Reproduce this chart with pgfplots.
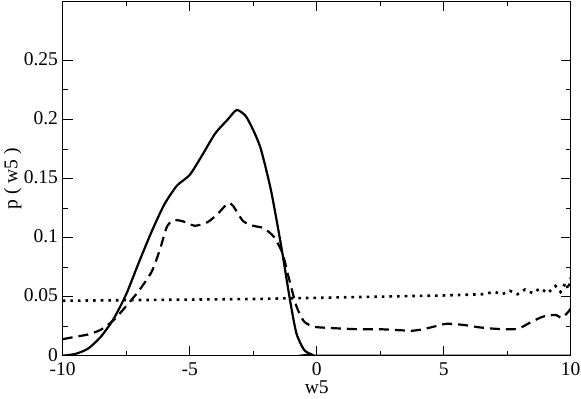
\documentclass[border=0pt]{standalone}
\usepackage{fontspec}
\setmainfont{Liberation Serif}
\usepackage{pgfplots}
\pgfplotsset{compat=1.18}

\begin{document}
\fontsize{19.5}{22}\selectfont
\begin{tikzpicture}
\begin{axis}[
    name=ax,
    scale only axis,
    width=508pt, height=354.4pt,
    xmin=-10, xmax=10, ymin=0, ymax=0.3,
    xtick={-10,-5,0,5,10},
    ytick={0,0.05,0.1,0.15,0.2,0.25},
    minor x tick num=1,
    minor y tick num=1,
    tick align=inside,
    major tick length=10pt,
    minor tick length=5pt,
    every tick/.style={black, line width=0.8pt},
    axis line style={line width=1.1pt},
    /pgf/number format/assume math mode=true,
    /pgf/number format/fixed,
    /pgf/number format/precision=2,
    xticklabel style={yshift=0pt},
    yticklabel style={xshift=2pt, yshift=1pt},
    xlabel={w5}, ylabel={p ( w5 )},
    xlabel style={yshift=8pt},
    every axis y label/.style={at={(axis description cs:0,0.5)}, xshift=-50pt, rotate=90, anchor=center},
    every axis plot/.append style={black, line width=2.2pt},
]
% solid
\addplot[smooth, tension=0.4] coordinates {
(-10,0) (-9.5,0.0015) (-9,0.006) (-8.5,0.016) (-8,0.031) (-7.5,0.052)
(-7,0.079) (-6.5,0.105) (-6,0.128) (-5.5,0.144) (-5,0.153) (-4.5,0.170)
(-4,0.188) (-3.5,0.200) (-3.15,0.208) (-2.8,0.203) (-2.5,0.191) (-2.2,0.175)
(-1.8,0.140) (-1.4,0.093) (-1.05,0.047) (-0.8,0.019) (-0.5,0.005) (-0.2,0.001)
(0,0) (10,0)
};
% dashed
\addplot[smooth, tension=0.4, dash pattern=on 10pt off 6pt] coordinates {
(-10,0.014) (-9.5,0.016) (-9,0.018) (-8.5,0.022) (-8,0.030) (-7.5,0.042)
(-7,0.055) (-6.5,0.071) (-6.17,0.090) (-5.9,0.109) (-5.65,0.1145) (-5.3,0.114)
(-4.8,0.110) (-4.3,0.113) (-3.9,0.120) (-3.5,0.129) (-3.3,0.127) (-2.9,0.114)
(-2.5,0.110) (-2.1,0.108) (-1.7,0.101) (-1.35,0.087) (-1.1,0.066) (-0.8,0.042)
(-0.5,0.029) (-0.1,0.0245) (0.5,0.0235) (1.5,0.0225) (2.5,0.0224) (3.8,0.0212)
(4.5,0.024) (5.1,0.027) (5.8,0.026) (6.4,0.024) (7.1,0.0227) (7.9,0.0227)
(8.4,0.028) (8.9,0.033) (9.4,0.0345) (9.65,0.032) (9.9,0.037) (10,0.040)
};
\addplot[sharp plot] coordinates {(10,0.040) (10,0)};
% dotted
\addplot[sharp plot, line width=2.6pt, dash pattern=on 2.6pt off 5pt] coordinates {
(-10,0.0465) (-7.5,0.047) (-5,0.0475) (-2.5,0.048) (0,0.049) (2.5,0.050)
(5,0.051) (6.5,0.052) (7,0.054) (7.3,0.052) (7.6,0.055) (7.9,0.052)
(8.2,0.056) (8.5,0.053) (8.8,0.057) (9.1,0.053) (9.4,0.059) (9.6,0.054)
(9.8,0.062) (9.9,0.056) (10,0.066)
};
\end{axis}
\pgfresetboundingbox
\path ([shift={(-62.7pt,-42.5pt)}]ax.south west) rectangle ([shift={(10.3pt,1.3pt)}]ax.north east);
\end{tikzpicture}
\end{document}
